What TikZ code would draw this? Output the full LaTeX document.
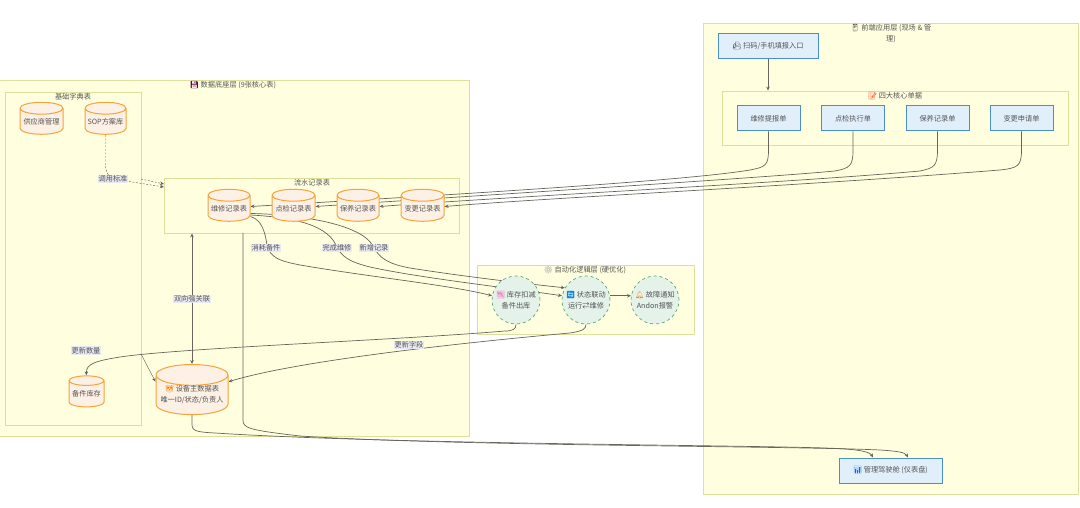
\documentclass[tikz,border=0pt]{standalone}
\usepackage{fontspec}
\setmainfont{Noto Sans CJK SC}
\newfontfamily\emojifont{Noto Emoji}
\usetikzlibrary{arrows.meta,shapes.geometric}
\pgfdeclarelayer{groups}
\pgfdeclarelayer{lines}
\pgfsetlayers{groups,lines,main}
\definecolor{grpfill}{HTML}{FFFFE0}
\definecolor{grpline}{HTML}{DDE09A}
\definecolor{txtcol}{HTML}{555555}
\definecolor{linecol}{HTML}{66665C}
\definecolor{tblline}{HTML}{F5A33C}
\definecolor{tblfill}{HTML}{FDF0E4}
\definecolor{frmline}{HTML}{4A8FC7}
\definecolor{frmfill}{HTML}{E1EFFB}
\definecolor{autoline}{HTML}{5CA878}
\definecolor{autofill}{HTML}{E4F2EA}
\definecolor{lblfill}{HTML}{E8E8F2}
\newcommand{\icon}[2]{{\emojifont\color{#1}#2}}
\tikzset{
    every node/.style={font=\fontsize{7.2}{11}\selectfont,text=txtcol},
    groupbox/.style={rectangle,draw=grpline,fill=grpfill,line width=.8pt,inner sep=0pt},
    tablenode/.style={cylinder,shape border rotate=90,aspect=.33,draw=tblline,fill=tblfill,line width=1pt,inner sep=0pt},
    formnode/.style={rectangle,draw=frmline,fill=frmfill,line width=1pt,minimum height=25pt},
    autonode/.style={circle,draw=autoline,fill=autofill,dashed,line width=.7pt,minimum size=48pt,inner sep=0pt,align=center},
    link/.style={draw=linecol,line width=.7pt,-{Stealth[length=4pt,width=3.5pt]}},
    thinlink/.style={link,line width=.45pt},
    dashlink/.style={link,line width=.45pt,dashed,dash pattern=on 2pt off 1.5pt},
    edgelabel/.style={fill=lblfill,inner sep=1pt}
}
\begin{document}
\begin{tikzpicture}[x=1pt,y=-1pt]
    \useasboundingbox (0,0) rectangle (1080,508);
    \begin{pgfonlayer}{groups}
        \node[groupbox,minimum width=471pt,minimum height=356pt] (dataGroup) at (233.5,258) {};
        \node[groupbox,minimum width=136pt,minimum height=333pt] (dictGroup) at (73,258.5) {};
        \node[groupbox,minimum width=295pt,minimum height=55pt] (flowGroup) at (311.5,205.5) {};
        \node[groupbox,minimum width=217pt,minimum height=69pt] (autoGroup) at (585.5,299.5) {};
        \node[groupbox,minimum width=375pt,minimum height=471pt] (appGroup) at (890.5,258.5) {};
        \node[groupbox,minimum width=346pt,minimum height=54pt] (formGroup) at (895,118) {};
    \end{pgfonlayer}
    % group titles
    \node (dataTitle) at (233,85.5) {\icon{violet!70!black}{💾} 数据底座层 (9张核心表)};
    \node (dictTitle) at (73,96.5) {基础字典表};
    \node (flowTitle) at (312,183) {流水记录表};
    \node (autoTitle) at (585,270) {\icon{gray}{⚙} 自动化逻辑层 (硬优化)};
    \node[align=center] (appTitle) at (891,33.5) {\icon{black!80}{📱} 前端应用层 (现场 \& 管\\理)};
    \node (formTitle) at (895,96.5) {\icon{red!70!orange}{📝} 四大核心单据};
    % tables
    \node[tablenode,minimum width=43pt,minimum height=32pt] (supplierTable) at (41.5,121.5) {供应商管理};
    \node[tablenode,minimum width=41pt,minimum height=32pt] (sopTable) at (105.5,121.5) {SOP方案库};
    \node[tablenode,minimum width=42pt,minimum height=32pt] (repairTable) at (229,208.5) {维修记录表};
    \node[tablenode,minimum width=43pt,minimum height=32pt] (checkTable) at (293.5,208.5) {点检记录表};
    \node[tablenode,minimum width=42pt,minimum height=32pt] (maintTable) at (358,208.5) {保养记录表};
    \node[tablenode,minimum width=43pt,minimum height=32pt] (changeTable) at (422.5,208.5) {变更记录表};
    \node[tablenode,minimum width=35pt,minimum height=31pt] (spareTable) at (86.5,394) {备件库存};
    \node[tablenode,align=center,minimum width=72pt,minimum height=46pt] (deviceTable) at (192,395) {\icon{orange}{👑} 设备主数据表\\唯一ID/状态/负责人};
    % automation
    \node[autonode] (stockNode) at (516,300) {\icon{magenta!70}{📉} 库存扣减\\备件出库};
    \node[autonode] (statusNode) at (586,300) {\icon{cyan!70!blue}{🔄} 状态联动\\运行⇄维修};
    \node[autonode] (alarmNode) at (655,300) {\icon{orange}{🔔} 故障通知\\Andon报警};
    % front end
    \node[formnode,minimum width=100pt] (scanNode) at (768,46) {\icon{black!80}{📠} 扫码/手机填报入口};
    \node[formnode,minimum width=63pt] (repairForm) at (768.5,118.5) {维修提报单};
    \node[formnode,minimum width=63pt] (checkForm) at (853,118.5) {点检执行单};
    \node[formnode,minimum width=63pt] (maintForm) at (937.5,118.5) {保养记录单};
    \node[formnode,minimum width=63pt] (changeForm) at (1021.5,118.5) {变更申请单};
    \node[formnode,minimum width=103pt] (cockpitNode) at (890.5,470.5) {\icon{blue!60!cyan}{📊} 管理驾驶舱 (仪表盘)};
    % edge labels
    \node[edgelabel] (stdLabel) at (113,179) {调用标准};
    \node[edgelabel] (spendLabel) at (266,248) {消耗备件};
    \node[edgelabel] (doneLabel) at (337,248) {完成维修};
    \node[edgelabel] (addLabel) at (374,248) {新增记录};
    \node[edgelabel] (relLabel) at (192,299) {双向强关联};
    \node[edgelabel] (qtyLabel) at (86,350.5) {更新数量};
    \node[edgelabel] (fieldLabel) at (409,345) {更新字段};
    \coordinate (dictOutA) at (141,179);
    \coordinate (dictOutB) at (141,354);
    \coordinate (flowInA) at (164,184);
    \coordinate (flowInB) at (164,187);
    \coordinate (flowOut) at (243,233);
    \coordinate (repairOutA) at ([yshift=-8pt]repairTable.east);
    \coordinate (repairOutB) at ([yshift=-6.5pt]repairTable.east);
    \coordinate (repairOutC) at ([yshift=-5pt]repairTable.east);
    \begin{pgfonlayer}{lines}
        \draw[link] (scanNode) -- (scanNode |- formGroup.north);
        % forms to tables
        \draw[link] (repairForm.south) -- (768.5,150) .. controls (768.5,166) and (765,167) .. (750,170) .. controls (690,180) and (500,192) .. ([yshift=2pt]repairTable.east);
        \draw[link] (checkForm.south) -- (853,150) .. controls (853,166) and (850,168) .. (835,171) .. controls (760,178) and (500,194) .. ([yshift=2pt]checkTable.east);
        \draw[link] (maintForm.south) -- (937.5,150) .. controls (937.5,166) and (934,168) .. (920,171) .. controls (800,182) and (520,196) .. ([yshift=2pt]maintTable.east);
        \draw[link] (changeForm.south) -- (1021.5,150) .. controls (1021.5,166) and (1018,168) .. (1000,170) .. controls (800,186) and (560,197) .. ([yshift=2pt]changeTable.east);
        % dictionary
        \draw[dashlink] (sopTable.south) -- (105.5,164) .. controls (105.5,172) and (108,176) .. (stdLabel.center) -- (flowInB);
        \draw[dashlink] (dictOutA) -- (flowInA);
        \draw[thinlink] (dictOutB) -- (deviceTable.160);
        % repair table to automation
        \draw[link] (repairOutA) .. controls (262,220) and (265,232) .. (267,245) .. controls (270,258) and (280,261) .. (300,265) .. controls (370,277) and (450,285) .. (stockNode.170);
        \draw[link] (repairOutB) .. controls (285,217) and (325,222) .. (336,245) .. controls (341,257) and (350,262) .. (370,267) .. controls (420,278) and (510,288) .. (statusNode.170);
        \draw[link] (repairOutC) .. controls (290,214) and (360,222) .. (373,246) .. controls (379,258) and (388,264) .. (410,268) .. controls (460,276) and (520,283) .. (statusNode.150);
        \draw[link] (statusNode.10) -- (alarmNode.170);
        % back to master data
        \draw[link] (stockNode.south) .. controls (516,329) and (513,331) .. (505,331) .. controls (400,340) and (180,348) .. (120,357) .. controls (95,361) and (86,364) .. (spareTable.north);
        \draw[link] (statusNode.south) .. controls (586,329) and (583,331) .. (570,333) .. controls (470,342) and (300,360) .. (deviceTable.20);
        \draw[link,line width=.9pt,{Stealth[length=4pt,width=3.5pt]}-{Stealth[length=4pt,width=3.5pt]}] (deviceTable.north) -- (deviceTable.north |- flowGroup.south);
        % cockpit
        \draw[link] (deviceTable.south) -- (192,424) .. controls (192,431) and (196,432) .. (215,433) .. controls (400,445) and (800,445) .. (845,449) .. controls (860,450) and (870,452) .. ([xshift=-17.5pt]cockpitNode.north);
        \draw[link] (flowOut) -- (243,420) .. controls (243,428) and (248,430) .. (300,436) .. controls (450,446) and (800,446) .. (880,450) .. controls (895,451) and (905,452) .. ([xshift=17.5pt]cockpitNode.north);
    \end{pgfonlayer}
\end{tikzpicture}
\end{document}
